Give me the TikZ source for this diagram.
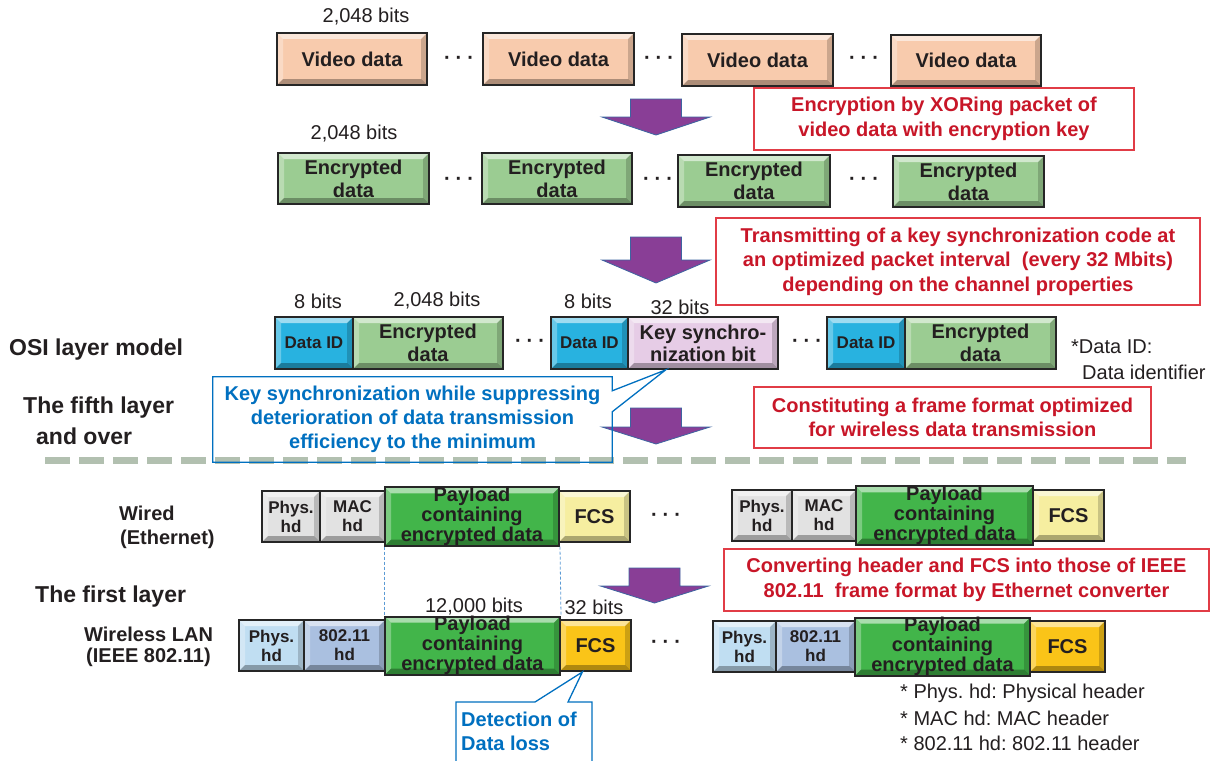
\documentclass[tikz,border=0pt]{standalone}
\usepackage{fontspec}
\setmainfont{Liberation Sans}
\frenchspacing
\usetikzlibrary{calc}
\definecolor{peach}{RGB}{248,203,173}
\definecolor{encg}{RGB}{155,204,146}
\definecolor{did}{RGB}{40,178,224}
\definecolor{keyc}{RGB}{230,204,230}
\definecolor{greyh}{RGB}{226,226,226}
\definecolor{payg}{RGB}{66,181,74}
\definecolor{fcsy}{RGB}{246,238,160}
\definecolor{phb}{RGB}{192,222,242}
\definecolor{wlb}{RGB}{170,192,224}
\definecolor{fcsg}{RGB}{250,196,24}
\definecolor{arrp}{RGB}{137,62,150}
\definecolor{arre}{RGB}{62,100,160}
\definecolor{redt}{RGB}{200,22,40}
\definecolor{redb}{RGB}{225,60,70}
\definecolor{bluet}{RGB}{0,112,192}
\definecolor{bluel}{RGB}{91,155,213}
\definecolor{dashc}{RGB}{178,192,176}
\definecolor{txt}{RGB}{35,31,32}
\tikzset{
  bevel/.style={path picture={
    \fill[white,opacity=.55] (path picture bounding box.north west) -- (path picture bounding box.north east) -- ([shift={(-6pt,-6pt)}]path picture bounding box.north east) -- ([shift={(6pt,-6pt)}]path picture bounding box.north west) -- cycle;
    \fill[white,opacity=.3] (path picture bounding box.north west) -- ([shift={(6pt,-6pt)}]path picture bounding box.north west) -- ([shift={(6pt,6pt)}]path picture bounding box.south west) -- (path picture bounding box.south west) -- cycle;
    \fill[black,opacity=.3] (path picture bounding box.south west) -- (path picture bounding box.south east) -- ([shift={(-6pt,6pt)}]path picture bounding box.south east) -- ([shift={(6pt,6pt)}]path picture bounding box.south west) -- cycle;
    \fill[black,opacity=.18] (path picture bounding box.north east) -- ([shift={(-6pt,-6pt)}]path picture bounding box.north east) -- ([shift={(-6pt,6pt)}]path picture bounding box.south east) -- (path picture bounding box.south east) -- cycle;
  }},
  pk/.style={draw=black!85, line width=2pt, bevel, inner sep=0pt, align=center, text=txt, font=\bfseries\fontsize{20}{23}\selectfont},
  hdf/.style={font=\bfseries\fontsize{17}{19}\selectfont},
  payf/.style={font=\bfseries\fontsize{20}{14.5}\selectfont},
  keyf/.style={font=\bfseries\fontsize{20}{22}\selectfont},
  redbox/.style={draw=redb, line width=1.3pt, fill=white, text=redt, align=center, inner sep=0pt, font=\bfseries\fontsize{20}{24.5}\selectfont},
  lbl/.style={text=txt, inner sep=0pt, font=\fontsize{20}{24}\selectfont},
  heading/.style={text=txt, inner sep=0pt, anchor=west, font=\bfseries\fontsize{23}{27}\selectfont},
  side/.style={text=txt, inner sep=0pt, anchor=west, font=\bfseries\fontsize{20}{24}\selectfont},
  dots/.style={text=txt, inner sep=0pt, font=\bfseries\fontsize{20}{20}\selectfont},
  callout/.style={draw=bluet, line width=1.3pt},
  calltxt/.style={text=bluet, inner sep=0pt, font=\bfseries\fontsize{20}{24}\selectfont},
  guide/.style={draw=bluel, line width=0.8pt, dash pattern=on 3pt off 2pt},
  bigarrow/.style={fill=arrp, draw=arre, line width=0.8pt}
}
\newcommand\pkbox[8][]{%
  \pgfmathsetmacro\pkW{#4-#3}\pgfmathsetmacro\pkH{#6-#5}%
  \pgfmathsetmacro\pkX{(#3+#4)/2}\pgfmathsetmacro\pkY{(#5+#6)/2}%
  \node[pk,#1,fill=#7,minimum width=\pkW pt,minimum height=\pkH pt] (#2) at (\pkX,\pkY) {#8};}
\newcommand\darrow[4]{\filldraw[bigarrow] (#1-25.5,#2) -- (#1+25.5,#2) -- (#1+25.5,#3) -- (#1+54,#3) -- (#1,#4) -- (#1-54,#3) -- (#1-25.5,#3) -- cycle;}
\newcommand\dotsep{·\hspace{5pt}·\hspace{5pt}·}
\begin{document}
\begin{tikzpicture}[x=1pt,y=-1pt]
\useasboundingbox[fill=white] (0,0) rectangle (1212,760);

% ---- row 1: video data
\node[lbl] (b1) at (366,17) {2,048 bits};
\pkbox{v1}{277}{427}{33}{85}{peach}{Video data}
\pkbox{v2}{483}{634}{33}{85}{peach}{Video data}
\pkbox{v3}{682}{833}{34}{86}{peach}{Video data}
\pkbox{v4}{891}{1041}{35}{86}{peach}{Video data}
\node[dots] (d11) at (459,60) {\dotsep};
\node[dots] (d12) at (659,60) {\dotsep};
\node[dots] (d13) at (864,60) {\dotsep};

\darrow{656}{99}{117}{135}
\node[redbox, minimum width=380pt, minimum height=62pt] (r1) at (944,119) {Encryption by XORing packet of\\video data with encryption key};

% ---- row 2: encrypted data
\node[lbl] (b2) at (354,134) {2,048 bits};
\pkbox{e1}{278}{429}{153}{204}{encg}{Encrypted\\data}
\pkbox{e2}{482}{632}{153}{204}{encg}{Encrypted\\data}
\pkbox{e3}{678}{830}{155}{207}{encg}{Encrypted\\data}
\pkbox{e4}{893}{1044}{156}{207}{encg}{Encrypted\\data}
\node[dots] (d21) at (459,181) {\dotsep};
\node[dots] (d22) at (658,181) {\dotsep};
\node[dots] (d23) at (864,181) {\dotsep};

\darrow{656}{237}{260}{283}
\node[redbox, minimum width=484pt, minimum height=87pt] (r2) at (958,261.5) {Transmitting of a key synchronization code at\\an optimized packet interval\ \ (every 32 Mbits)\\depending on the channel properties};

% ---- row 3: frame with data ID
\node[lbl] (b31) at (318,301) {8 bits};
\node[lbl] (b32) at (437,301) {2,048 bits};
\node[lbl] (b33) at (588,301) {8 bits};
\node[lbl] (b34) at (680,307) {32 bits};
\pkbox[hdf]{id1}{275}{353}{317}{369}{did}{Data ID}
\pkbox{en1}{353}{503}{317}{369}{encg}{Encrypted\\data}
\node[dots] (d31) at (530,343) {\dotsep};
\pkbox[hdf]{id2}{551}{628}{317}{369}{did}{Data ID}
\pkbox[keyf]{key}{628}{778}{317}{369}{keyc}{Key synchro-\\nization bit}
\node[dots] (d32) at (807,343) {\dotsep};
\pkbox[hdf]{id3}{827}{905}{317}{369}{did}{Data ID}
\pkbox{en3}{905}{1056}{317}{369}{encg}{Encrypted\\data}
\node[lbl, anchor=west] (fn0a) at (1071,347) {*Data ID:};
\node[lbl, anchor=west] (fn0b) at (1082,372) {Data identifier};

\node[heading] (osi) at (9,350) {OSI layer model};
\node[heading] (fifth) at (23,408) {The fifth layer};
\node[heading] (over) at (36,436) {and over};

\node[redbox, minimum width=397pt, minimum height=61pt] (r3) at (952.5,417.5) {Constituting a frame format optimized\\for wireless data transmission};

% dashed separator
\coordinate (sepL) at (45,460.5);
\coordinate (sepR) at (1186,460.5);
\draw[dashc, line width=7pt, dash pattern=on 25pt off 9pt] (sepL) -- (sepR);

\darrow{656}{408}{427}{444}

% callout 1
\node[calltxt, align=center, minimum width=399pt, minimum height=85pt] (cb1) at (412.5,419.5) {Key synchronization while suppressing\\deterioration of data transmission\\efficiency to the minimum};
\coordinate (tip1) at ($(key.south west)!0.253!(key.south east)$);
\draw[callout] (cb1.north west) -- (cb1.north east) -- ([yshift=-14pt]cb1.north east) -- (tip1) -- ([yshift=-35pt]cb1.north east) -- (cb1.south east) -- (cb1.south west) -- cycle;

% ---- wired row
\node[side] (wired) at (119,513) {Wired};
\node[side] (eth) at (120,539) {(Ethernet)};
\pkbox[hdf]{wph1}{262}{320}{491}{542}{greyh}{Phys.\\hd}
\pkbox[hdf]{wmac1}{320}{385}{491}{542}{greyh}{MAC\\hd}
\pkbox[payf]{wpay1}{385}{559}{491}{542}{payg}{Payload\\containing\\encrypted data}
\pkbox{wfcs1}{559}{630}{491}{542}{fcsy}{FCS}
\node[dots] (d41) at (666,517) {\dotsep};
\pkbox[hdf]{wph2}{732}{792}{490}{541}{greyh}{Phys.\\hd}
\pkbox[hdf]{wmac2}{792}{856}{490}{541}{greyh}{MAC\\hd}
\pkbox[payf]{wpay2}{856}{1033}{490}{541}{payg}{Payload\\containing\\encrypted data}
\pkbox{wfcs2}{1033}{1104}{490}{541}{fcsy}{FCS}

\darrow{654.5}{568}{586}{603}
\node[redbox, minimum width=485pt, minimum height=62pt] (r4) at (966.5,580) {Converting header and FCS into those of IEEE\\802.11\ \ frame format by Ethernet converter};

\node[heading] (first) at (35,597) {The first layer};
\node[side] (wlan) at (84,634) {Wireless LAN};
\node[side] (ieee) at (86,657) {(IEEE 802.11)};

% ---- wireless row
\node[lbl] (b41) at (474,607) {12,000 bits};
\node[lbl] (b42) at (594,607) {32 bits};
\pkbox[hdf]{lph1}{239}{304}{620}{671}{phb}{Phys.\\hd}
\pkbox[hdf]{l80211}{304}{385}{620}{671}{wlb}{802.11\\hd}
\pkbox[payf]{lpay1}{385}{560}{620}{671}{payg}{Payload\\containing\\encrypted data}
\pkbox{lfcs1}{560}{631}{620}{671}{fcsg}{FCS}
\node[dots] (d51) at (666,644) {\dotsep};
\pkbox[hdf]{lph2}{713}{776}{621}{672}{phb}{Phys.\\hd}
\pkbox[hdf]{l80212}{776}{855}{621}{672}{wlb}{802.11\\hd}
\pkbox[payf]{lpay2}{855}{1030}{621}{672}{payg}{Payload\\containing\\encrypted data}
\pkbox{lfcs2}{1030}{1105}{621}{672}{fcsg}{FCS}

% guide lines
\draw[guide] (wpay1.south west) -- (lpay1.north west);
\draw[guide] (wpay1.south east) -- (lpay1.north east);

% callout 2
\node[calltxt, align=left, anchor=west] (cb2) at (461,731.5) {Detection of\\Data loss};
\coordinate (tip2) at ($(lfcs1.south west)!0.32!(lfcs1.south east)$);
\coordinate (c2bl) at (456,761);
\coordinate (c2tl) at (456,702);
\coordinate (c2a) at (535,702);
\coordinate (c2b) at (568,702);
\coordinate (c2tr) at (592,702);
\coordinate (c2br) at (592,761);
\draw[callout] (c2bl) -- (c2tl) -- (c2a) -- (tip2) -- (c2b) -- (c2tr) -- (c2br);

% footnotes
\node[lbl, anchor=west] (fn1) at (900,693) {* Phys. hd: Physical header};
\node[lbl, anchor=west] (fn2) at (900,718) {* MAC hd: MAC header};
\node[lbl, anchor=west] (fn3) at (900,743) {* 802.11 hd: 802.11 header};
\end{tikzpicture}
\end{document}
